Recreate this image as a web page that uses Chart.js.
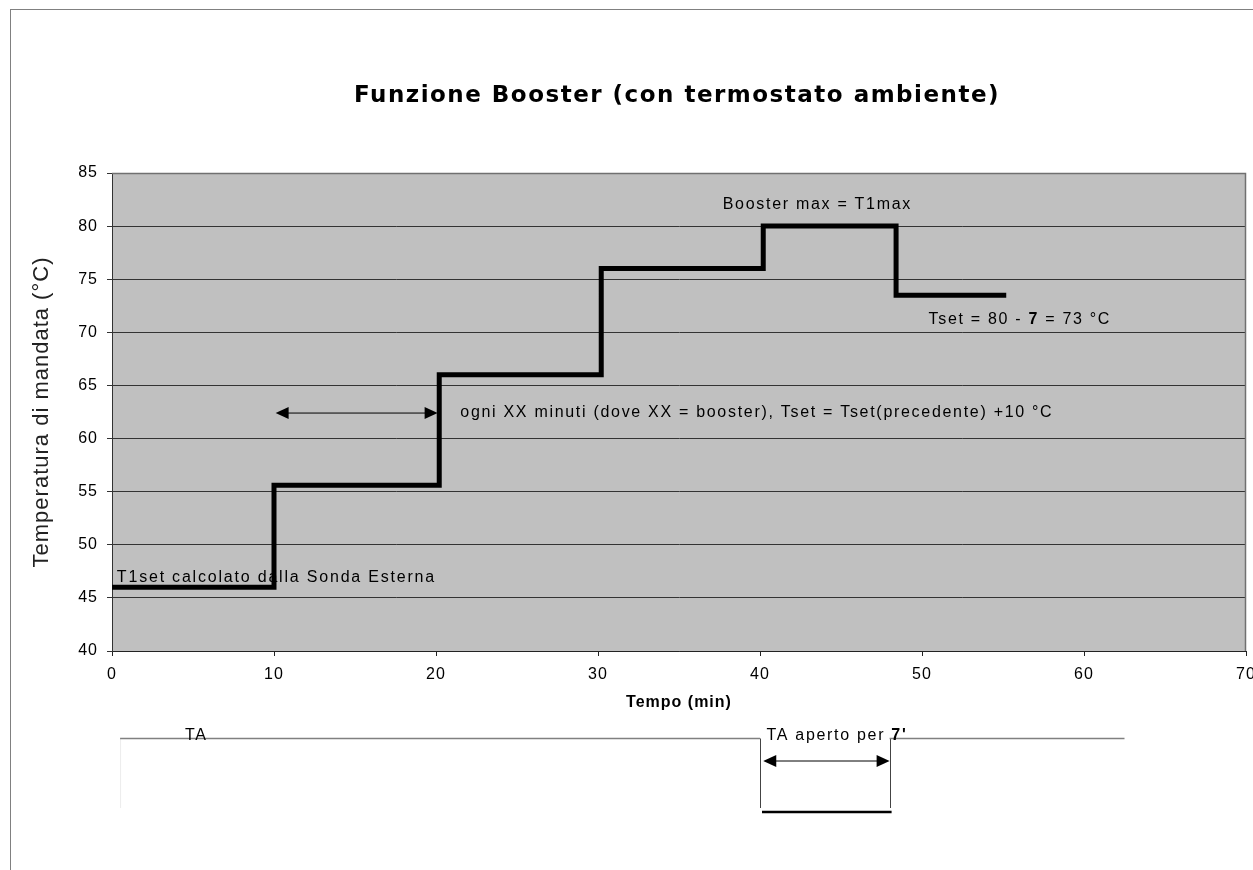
<!DOCTYPE html>
<html>
<head>
<meta charset="utf-8">
<title>Funzione Booster</title>
<script src="https://cdn.jsdelivr.net/npm/chart.js@4.4.1/dist/chart.umd.min.js"></script>
<style>
  html, body { margin: 0; padding: 0; background: #fff; overflow: hidden; }
  .wrap { width: 1253px; height: 870px; overflow: hidden; }
</style>
</head>
<body>
<div class="wrap"><canvas id="chart" width="1268" height="870"></canvas></div>
<script>
// step curve: time (min) where each new setpoint starts, and the setpoint (°C)
const stepTimes = [0, 10, 20.2, 30.2, 40.2, 48.4, 55.2];
const stepTemps = [46, 55.6, 66, 76, 80, 73.5, 73.5];
// room thermostat (TA) signal: 1 = closed, 0 = open
const taTimes = [0.5, 40, 48, 62.5];
const taLevels = [1, 0, 1, 1];
const xTicks = [0, 10, 20, 30, 40, 50, 60, 70];
const yTicks = [40, 45, 50, 55, 60, 65, 70, 75, 80, 85];
const chartTitle = 'Funzione Booster (con termostato ambiente)';

const FONT = '"Liberation Sans", Arial, sans-serif';

function textRuns(ctx, runs, x, y, size) {
  runs.forEach(([txt, bold]) => {
    ctx.font = (bold ? 'bold ' : '') + size + 'px ' + FONT;
    ctx.fillText(txt, x, y);
    x += ctx.measureText(txt).width;
  });
}

function arrowHead(ctx, x, y, dir) {
  ctx.beginPath();
  ctx.moveTo(x, y);
  ctx.lineTo(x - dir * 13, y - 6);
  ctx.lineTo(x - dir * 13, y + 6);
  ctx.closePath();
  ctx.fill();
}

function doubleArrow(ctx, x1, x2, y) {
  ctx.beginPath();
  ctx.moveTo(x1 + 6, y);
  ctx.lineTo(x2 - 6, y);
  ctx.stroke();
  arrowHead(ctx, x1, y, -1);
  arrowHead(ctx, x2, y, 1);
}

// excel-like wide letter spacing for the axis texts too
const spacing = (chart) => { chart.ctx.letterSpacing = '1px'; };

const boosterDecor = {
  id: 'boosterDecor',
  beforeUpdate: spacing,
  beforeLayout: spacing,
  beforeDraw(chart) {
    spacing(chart);
    const { ctx, chartArea: a } = chart;
    ctx.save();
    ctx.fillStyle = '#c0c0c0';
    ctx.fillRect(a.left, a.top, a.right - a.left, a.bottom - a.top);
    // title
    ctx.fillStyle = '#000';
    ctx.letterSpacing = '1.5px';
    ctx.textAlign = 'center';
    ctx.textBaseline = 'middle';
    ctx.font = 'bold 23px "DejaVu Sans", sans-serif';
    ctx.fillText(chartTitle, (a.left + a.right) / 2 - 2, 96);
    ctx.restore();
  },
  afterDatasetsDraw(chart) {
    const { ctx, chartArea: a } = chart;
    const xs = chart.scales.x, ys = chart.scales.y;
    ctx.save();
    // plot frame top / right
    ctx.strokeStyle = '#707070';
    ctx.lineWidth = 1.5;
    ctx.beginPath();
    ctx.moveTo(a.left, a.top + 0.5);
    ctx.lineTo(a.right - 0.5, a.top + 0.5);
    ctx.lineTo(a.right - 0.5, a.bottom);
    ctx.stroke();

    ctx.fillStyle = '#000';
    ctx.strokeStyle = '#000';
    ctx.lineWidth = 1;
    ctx.letterSpacing = '1.7px';
    ctx.textBaseline = 'middle';
    ctx.letterSpacing = '1.8px';
    textRuns(ctx, [['T1set calcolato dalla Sonda Esterna', false]], xs.getPixelForValue(0.3), ys.getPixelForValue(46.9), 16);
    ctx.letterSpacing = '1.7px';
    textRuns(ctx, [['Booster max = T1max', false]], xs.getPixelForValue(37.7), ys.getPixelForValue(82.0), 16);
    textRuns(ctx, [['Tset = 80 - ', false], ['7', true], [' = 73 °C', false]], xs.getPixelForValue(50.4), ys.getPixelForValue(71.2), 16);
    textRuns(ctx, [['ogni XX minuti (dove XX = booster), Tset = Tset(precedente) +10 °C', false]], xs.getPixelForValue(21.5), ys.getPixelForValue(62.4), 16);
    doubleArrow(ctx, xs.getPixelForValue(10.1), xs.getPixelForValue(20.1), ys.getPixelForValue(62.4));
    ctx.restore();
  },
  afterDraw(chart) {
    const { ctx } = chart;
    const xs = chart.scales.x;
    const hiY = 738.5, loY = 808, barY = 812;
    ctx.save();
    // outer frame
    ctx.strokeStyle = '#808080';
    ctx.lineWidth = 1;
    ctx.strokeRect(10.5, 9.5, 1251, 900);

    // TA signal
    ctx.strokeStyle = '#ececec';
    ctx.beginPath();
    ctx.moveTo(xs.getPixelForValue(taTimes[0]) + 0.5, hiY);
    ctx.lineTo(xs.getPixelForValue(taTimes[0]) + 0.5, loY);
    ctx.stroke();
    for (let i = 0; i < taTimes.length - 1; i++) {
      const x1 = xs.getPixelForValue(taTimes[i]);
      const x2 = xs.getPixelForValue(taTimes[i + 1]);
      ctx.beginPath();
      if (taLevels[i] === 1) {
        ctx.strokeStyle = '#808080';
        ctx.lineWidth = 1.5;
        ctx.moveTo(x1, hiY);
        ctx.lineTo(x2, hiY);
      } else {
        ctx.strokeStyle = '#000';
        ctx.lineWidth = 2.5;
        ctx.moveTo(x1 + 2, barY);
        ctx.lineTo(x2 + 2, barY);
      }
      ctx.stroke();
      if (taLevels[i + 1] !== taLevels[i]) {
        ctx.strokeStyle = '#444';
        ctx.lineWidth = 1;
        ctx.beginPath();
        ctx.moveTo(Math.round(x2) + 0.5, hiY);
        ctx.lineTo(Math.round(x2) + 0.5, loY);
        ctx.stroke();
      }
    }
    ctx.fillStyle = '#000';
    ctx.strokeStyle = '#000';
    ctx.lineWidth = 1;
    ctx.letterSpacing = '1.7px';
    ctx.textBaseline = 'alphabetic';
    textRuns(ctx, [['TA', false]], xs.getPixelForValue(4.5), 740, 16);
    textRuns(ctx, [['TA aperto per ', false], ["7'", true]], xs.getPixelForValue(40.4), 740, 16);
    doubleArrow(ctx, xs.getPixelForValue(40.2), xs.getPixelForValue(48.0), 761);
    ctx.restore();
  }
};

new Chart(document.getElementById('chart').getContext('2d'), {
  type: 'line',
  data: {
    datasets: [{
      label: 'Tset',
      data: stepTimes.map((t, i) => ({ x: t, y: stepTemps[i] })),
      borderColor: '#000',
      borderWidth: 5,
      borderJoinStyle: 'miter',
      pointRadius: 0,
      stepped: true,
      fill: false
    }]
  },
  options: {
    responsive: false,
    animation: false,
    layout: { padding: { left: 25, right: 22, top: 173, bottom: 154 } },
    plugins: {
      legend: { display: false },
      tooltip: { enabled: false },
      title: { display: false }
    },
    scales: {
      x: {
        type: 'linear',
        min: 0,
        max: 70,
        afterBuildTicks: (s) => { s.ticks = xTicks.map((v) => ({ value: v })); },
        afterFit: (s) => { s.height = 65; },
        ticks: { padding: 9, color: '#000', maxRotation: 0, font: { family: FONT, size: 16 } },
        grid: { drawOnChartArea: false, tickLength: 5, color: '#222' },
        border: { color: '#222' },
        title: {
          display: true,
          text: 'Tempo (min)',
          color: '#000',
          font: { family: FONT, size: 16, weight: 'bold' },
          padding: 4
        }
      },
      y: {
        min: 40,
        max: 85,
        afterBuildTicks: (s) => { s.ticks = yTicks.map((v) => ({ value: v })); },
        afterFit: (s) => { s.width = 87; },
        ticks: { padding: 9, color: '#000', font: { family: FONT, size: 16 } },
        grid: { tickLength: 5, color: '#333' },
        border: { color: '#333' },
        title: {
          display: true,
          text: 'Temperatura di mandata (°C)',
          color: '#222',
          font: { family: FONT, size: 22 },
          padding: 4
        }
      }
    }
  },
  plugins: [boosterDecor]
});
</script>
</body>
</html>
